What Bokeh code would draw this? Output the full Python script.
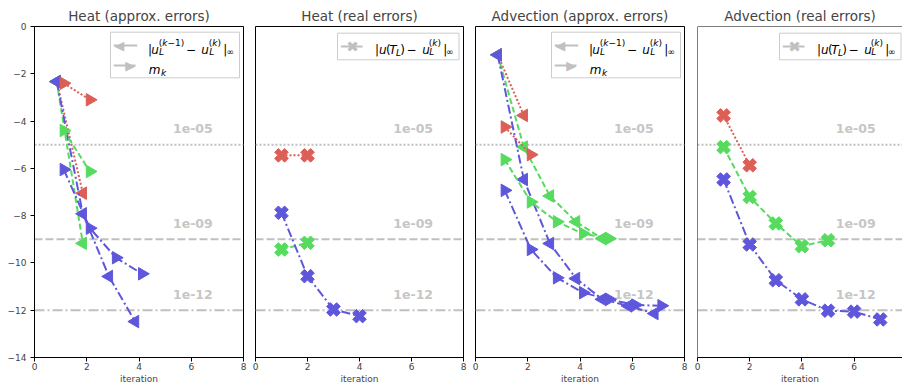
import math
from bokeh.plotting import figure
from bokeh.layouts import row
from bokeh.models import Span, Label, BoxAnnotation, FixedTicker, CustomJSTickFormatter, Range1d
from bokeh.core.properties import value
from bokeh.embed import file_html
from bokeh.resources import INLINE

# ---------------- data (log10 of the errors) ----------------
TITLES = ["Heat (approx. errors)", "Heat (real errors)",
          "Advection (approx. errors)", "Advection (real errors)"]
X_TICKS = [0, 2, 4, 6, 8]
Y_TICKS = [0, -2, -4, -6, -8, -10, -12, -14]
LEVELS = [-5, -9, -12]
LEVEL_LABELS = ["1e-05", "1e-09", "1e-12"]

heat_red_it = [1, 2]
heat_green_it = [1, 2]
heat_blue_it = [1, 2, 3, 4]
heat_red_diff = [-2.33, -7.05]
heat_green_diff = [-2.33, -9.17]
heat_blue_diff = [-2.33, -7.92, -10.57, -12.48]
heat_red_m = [-2.40, -3.10]
heat_green_m = [-4.40, -6.13]
heat_blue_m = [-6.05, -8.53, -9.78, -10.46]
heat_red_real = [-5.45, -5.45]
heat_green_real = [-9.43, -9.15]
heat_blue_real = [-7.88, -10.56, -11.97, -12.25]

adv_red_it = [1, 2]
adv_green_it = [1, 2, 3, 4, 5]
adv_blue_it = [1, 2, 3, 4, 5, 6, 7]
adv_red_diff = [-1.20, -3.76]
adv_green_diff = [-1.20, -5.10, -7.17, -8.26, -8.97]
adv_blue_diff = [-1.20, -6.47, -9.18, -10.66, -11.54, -11.82, -12.14]
adv_red_m = [-4.25, -5.42]
adv_green_m = [-5.63, -7.42, -8.26, -8.76, -8.97]
adv_blue_m = [-6.93, -9.43, -10.63, -11.26, -11.54, -11.78, -11.81]
adv_red_real = [-3.76, -5.87]
adv_green_real = [-5.10, -7.21, -8.33, -9.29, -9.04]
adv_blue_real = [-6.47, -9.22, -10.73, -11.54, -12.02, -12.06, -12.39]

# ---------------- styles ----------------
RED, GREEN, BLUE = "#db5f57", "#57db5f", "#5f57db"
DASHES = ["2 2", "6 3", "9 3 2 3"]
LEVEL_DASH = ["2 2", "8 3", "10 3 2 3"]
GRAY = "#c0c0c0"
FONT = "DejaVu Sans"
FH = 331
DIFF_SHIFT = -0.15
M_SHIFT = 0.12
LABEL_X = 5.3
LABEL_DY = 0.68


def make_fig(title, frame_w, left_b, right_b, x_end, show_y):
    kw = dict(frame_width=frame_w, frame_height=FH, x_range=Range1d(0, x_end),
              y_range=Range1d(-14, 0), output_backend="svg", toolbar_location=None,
              min_border_left=left_b, min_border_right=right_b, min_border_top=26,
              min_border_bottom=0, title=title)
    if not show_y:
        kw["y_axis_location"] = None
    p = figure(**kw)
    p.title.text_font = FONT
    p.title.text_font_size = "13.5px"
    p.title.text_font_style = "normal"
    p.title.align = "center"
    p.title.standoff = 6
    p.grid.visible = False
    p.outline_line_color = "black"
    p.outline_line_width = 1
    p.outline_line_alpha = 1
    for ax in p.axis:
        ax.major_tick_in = 0
        ax.major_tick_out = 4
        ax.minor_tick_line_color = None
        ax.major_label_text_font = FONT
        ax.major_label_text_font_size = "9px"
        ax.axis_line_color = "black"
        ax.major_tick_line_color = "black"
    xa = p.xaxis[0]
    xa.ticker = FixedTicker(ticks=X_TICKS)
    xa.axis_label = "iteration"
    xa.axis_label_text_font = FONT
    xa.axis_label_text_font_size = "9px"
    xa.axis_label_text_font_style = "normal"
    xa.major_label_standoff = 1
    xa.axis_label_standoff = 1
    if show_y:
        ya = p.yaxis[0]
        ya.ticker = FixedTicker(ticks=Y_TICKS)
        ya.major_label_standoff = 4
        ya.formatter = CustomJSTickFormatter(
            code="return tick < 0 ? '\u2212' + (-tick) : '' + tick;")
    for lvl, dash in zip(LEVELS, LEVEL_DASH):
        p.add_layout(Span(location=lvl, dimension="width", line_color=GRAY,
                          line_width=2, line_dash=dash, level="underlay"))
    p.text(x=[LABEL_X] * len(LEVELS), y=[l + LABEL_DY for l in LEVELS], text=LEVEL_LABELS,
           text_font=value(FONT), text_font_style="bold", text_font_size="12.5px",
           text_color="#c6c6c6", text_baseline="middle", text_align="left")
    return p


def tri_series(p, it, vals, shift, color, dash, angle):
    xs = [k + shift for k in it]
    p.line(xs, vals, line_color=color, line_width=2, line_dash=dash)
    p.scatter(xs, vals, marker="triangle", angle=angle, size=12.5,
              fill_color=color, line_color=color)


def x_series(p, it, vals, color, dash):
    p.line(it, vals, line_color=color, line_width=2, line_dash=dash)
    p.scatter(it, vals, marker="plus", angle=math.pi / 4, size=14,
              fill_color=color, line_color=color)


# ---------- legend drawn with annotations (screen units, frame relative) ----------
MAIN, SCRIPT = 12, 9
SHIFT = {"m": 0, "i": 0, "sup": 6.4, "supi": 6.4, "sub": -2.6, "subi": -2.6, "subT": -3.2}
ROW_DIFF = [("|", 0.0, "m"), ("u", 3.3, "i"), ("(", 10.7, "sup"), ("k", 14.2, "supi"),
            ("\u22121)", 19.4, "sup"), ("L", 11.0, "subi"), ("\u2212", 38.0, "m"),
            ("u", 53.3, "i"), ("(", 60.7, "sup"), ("k", 64.2, "supi"), (")", 69.4, "sup"),
            ("L", 61.2, "subi"), ("|", 75.3, "m"), ("\u221e", 78.4, "sub")]
ROW_M = [("m", 0.7, "i"), ("k", 12.9, "subi")]
ROW_REAL = [("|", 0.0, "m"), ("u", 4.1, "i"), ("(", 11.0, "m"), ("T", 14.3, "i"),
            ("L", 21.0, "subT"), (")", 25.3, "m"), ("\u2212", 31.7, "m"), ("u", 47.4, "i"),
            ("(", 53.8, "sup"), ("k", 57.3, "supi"), (")", 62.5, "sup"), ("L", 54.4, "subi"),
            ("|", 68.4, "m"), ("\u221e", 71.1, "sub")]


def add_text_row(p, x0, base_down, pieces):
    for txt, dx, kind in pieces:
        size = MAIN if kind in ("m", "i") else SCRIPT
        style = "italic" if kind in ("i", "supi", "subi", "subT") else "normal"
        p.add_layout(Label(x=x0 + dx, y=FH - base_down + SHIFT[kind], x_units="screen",
                           y_units="screen", text=txt, text_font=FONT,
                           text_font_size=f"{size}px", text_font_style=style,
                           text_color="black", text_align="left",
                           text_baseline="alphabetic"))


def add_handle(p, x1, x2, center_down, symbol, sx, font_size):
    p.add_layout(BoxAnnotation(left=x1, right=x2, top=FH - center_down + 1,
                               bottom=FH - center_down - 1, left_units="screen",
                               right_units="screen", top_units="screen",
                               bottom_units="screen", fill_color=GRAY, fill_alpha=1,
                               line_color=None))
    p.add_layout(Label(x=sx, y=FH - center_down, x_units="screen", y_units="screen",
                       text=symbol, text_font=FONT, text_font_size=font_size,
                       text_color=GRAY, text_align="center", text_baseline="middle"))


def add_box(p, left, right, top, bottom):
    p.add_layout(BoxAnnotation(left=left, right=right, top=FH - top, bottom=FH - bottom,
                               left_units="screen", right_units="screen",
                               top_units="screen", bottom_units="screen",
                               fill_color="white", fill_alpha=0.8,
                               line_color="#cccccc", line_width=1, line_alpha=1))


def legend_approx(p):
    bl = 76
    add_box(p, bl, 205, 5.7, 51.3)
    add_handle(p, bl + 3.3, bl + 26.7, 19, "\u25c0", bl + 8.8, "13px")
    add_text_row(p, bl + 37.5, 23, ROW_DIFF)
    add_handle(p, bl + 3.3, bl + 25, 39, "\u25b6", bl + 19.7, "13px")
    add_text_row(p, bl + 37.5, 43.5, ROW_M)


def legend_real(p):
    bl = 82
    add_box(p, bl, 203.5, 6.7, 33.3)
    add_handle(p, bl + 3.3, bl + 25, 20, "\u2716", bl + 15, "15px")
    add_text_row(p, bl + 37.4, 23, ROW_REAL)


# ---------------- panels ----------------
p1 = make_fig(TITLES[0], 209, 34, 6, 8, True)
p2 = make_fig(TITLES[1], 208, 6, 6, 8, False)
p3 = make_fig(TITLES[2], 209, 6, 6, 8, False)
p4 = make_fig(TITLES[3], 205, 7, 0, 7.854, False)
p4.outline_line_color = None
p4.add_layout(Span(location=0, dimension="width", line_color="black", line_width=1))
p4.add_layout(Span(location=0, dimension="height", line_color="black", line_width=1))

# heat approx
for it, vals, (c, d) in [(heat_red_it, heat_red_diff, (RED, DASHES[0])),
                         (heat_green_it, heat_green_diff, (GREEN, DASHES[1])),
                         (heat_blue_it, heat_blue_diff, (BLUE, DASHES[2]))]:
    tri_series(p1, it, vals, DIFF_SHIFT, c, d, math.pi / 2)
for it, vals, (c, d) in [(heat_red_it, heat_red_m, (RED, DASHES[0])),
                         (heat_green_it, heat_green_m, (GREEN, DASHES[1])),
                         (heat_blue_it, heat_blue_m, (BLUE, DASHES[2]))]:
    tri_series(p1, it, vals, M_SHIFT, c, d, -math.pi / 2)

# heat real
x_series(p2, heat_red_it, heat_red_real, RED, DASHES[0])
x_series(p2, heat_green_it, heat_green_real, GREEN, DASHES[1])
x_series(p2, heat_blue_it, heat_blue_real, BLUE, DASHES[2])

# advection approx
for it, vals, (c, d) in [(adv_red_it, adv_red_diff, (RED, DASHES[0])),
                         (adv_green_it, adv_green_diff, (GREEN, DASHES[1])),
                         (adv_blue_it, adv_blue_diff, (BLUE, DASHES[2]))]:
    tri_series(p3, it, vals, DIFF_SHIFT, c, d, math.pi / 2)
for it, vals, (c, d) in [(adv_red_it, adv_red_m, (RED, DASHES[0])),
                         (adv_green_it, adv_green_m, (GREEN, DASHES[1])),
                         (adv_blue_it, adv_blue_m, (BLUE, DASHES[2]))]:
    tri_series(p3, it, vals, M_SHIFT, c, d, -math.pi / 2)

# advection real
x_series(p4, adv_red_it, adv_red_real, RED, DASHES[0])
x_series(p4, adv_green_it, adv_green_real, GREEN, DASHES[1])
x_series(p4, adv_blue_it, adv_blue_real, BLUE, DASHES[2])

legend_approx(p1)
legend_real(p2)
legend_approx(p3)
legend_real(p4)

layout = row(p1, p2, p3, p4)
open("out.html", "w").write(file_html(layout, INLINE, title="errors"))
